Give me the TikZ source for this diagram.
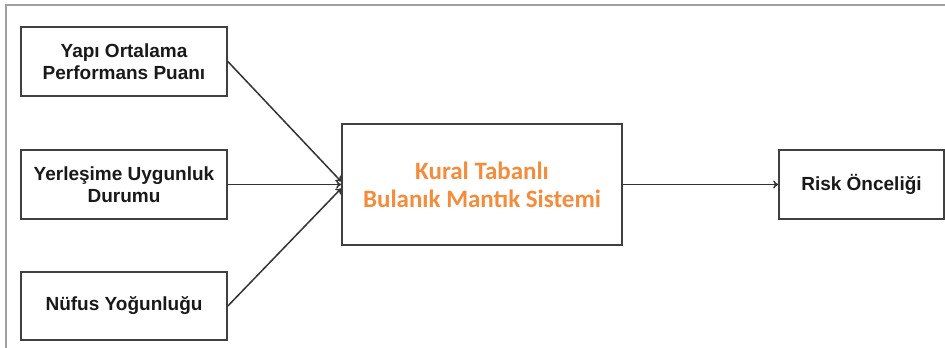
\documentclass[tikz,border=0pt]{standalone}
\usepackage{fontspec}
\setmainfont{Liberation Sans}
\newfontfamily\calib{Carlito}
\usetikzlibrary{arrows.meta}
\definecolor{boxline}{RGB}{64,64,64}
\definecolor{framegray}{RGB}{160,160,160}
\definecolor{orangetxt}{RGB}{245,140,60}
\tikzset{
  inbox/.style={draw=boxline, line width=1.7pt, align=center, inner sep=0pt,
    font=\fontsize{19}{22}\selectfont\bfseries, text=black!90},
  arr/.style={draw=black!80, line width=1.5pt, -{To[length=5pt,width=8pt]}}
}
\begin{document}
\begin{tikzpicture}[x=1pt,y=-1pt]
\useasboundingbox (0,0) rectangle (945,348);
\fill[white] (0,0) rectangle (945,348);
\draw[framegray, line width=1.5pt] (6,348) -- (6,5) -- (945,5);
\node[inbox, minimum width=206pt, minimum height=69pt] (b1) at (124,61.5) {Yapı Ortalama\\Performans Puanı};
\node[inbox, minimum width=206pt, minimum height=69pt] (b2) at (124,184.5) {Yerleşime Uygunluk\\Durumu};
\node[inbox, minimum width=206pt, minimum height=68pt] (b3) at (124,306) {Nüfus Yoğunluğu};
\node[draw=boxline, line width=1.7pt, minimum width=280pt, minimum height=121pt, inner sep=0pt,
  align=center, text=orangetxt, font=\calib\fontsize{25}{28}\selectfont\bfseries] (c) at (482,184.5)
  {Kural Tabanlı\\Bulanık Mantık Sistemi};
\node[inbox, minimum width=165pt, minimum height=69pt] (r) at (861.5,184.5) {Risk Önceliği};
\draw[arr] (b1.east) -- ([yshift=3pt]c.west);
\draw[arr] (b2.east) -- (c.west);
\draw[arr] (b3.east) -- ([yshift=-4pt]c.west);
\draw[arr] (c.east) -- (r.west);
\end{tikzpicture}
\end{document}
